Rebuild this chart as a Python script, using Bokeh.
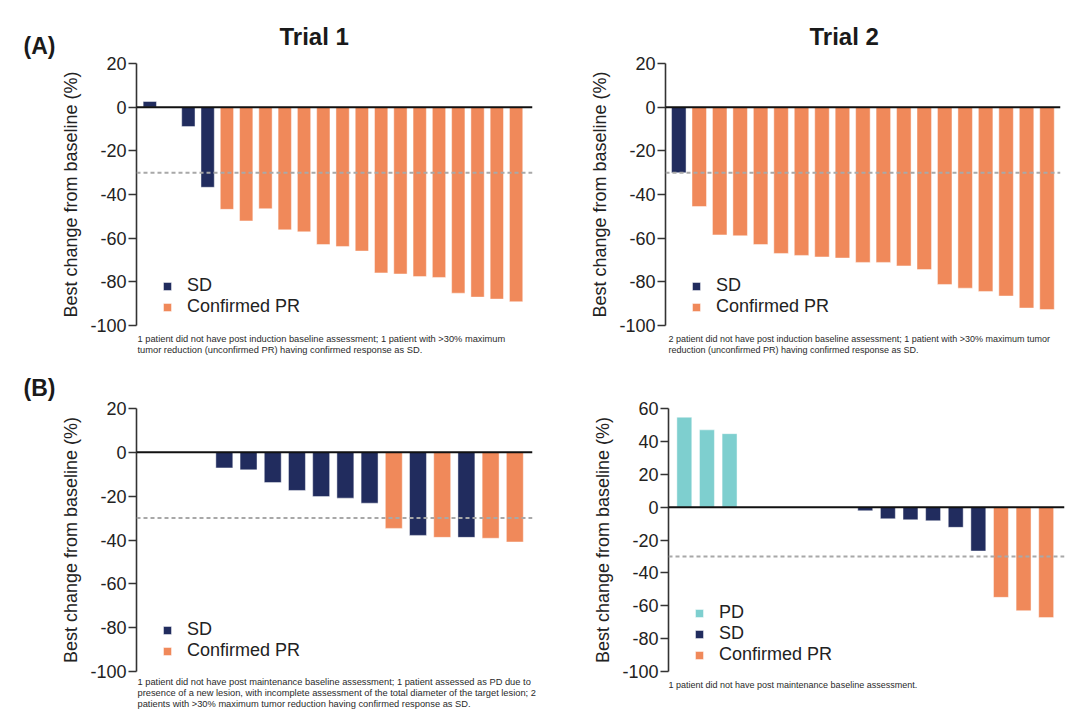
from bokeh.plotting import figure
from bokeh.models import Range1d, Span, Label, Legend, LegendItem, FixedTicker, ColumnDataSource, Title
from bokeh.layouts import column, row
from bokeh.embed import file_html
from bokeh.resources import INLINE

FONT = "Liberation Sans"

# ---------------- data ----------------
# one entry per patient slot; None = patient without assessment (empty slot)
a1_values = [2.6, None, -8.9, -36.7, -46.8, -52.1, -46.5, -56.2, -57.1, -62.9,
             -63.8, -65.9, -75.9, -76.4, -77.6, -78.0, -85.2, -87.0, -87.9, -89.1]
a1_status = ["SD", None, "SD", "SD"] + ["PR"] * 16

a2_values = [-30.0, -45.5, -58.5, -58.9, -62.9, -67.0, -67.9, -68.6, -69.1, -71.1,
             -71.1, -72.7, -74.4, -81.2, -82.9, -84.4, -86.5, -92.0, -92.7]
a2_status = ["SD"] + ["PR"] * 18

b1_values = [None, None, None, -7.1, -8.0, -13.8, -17.4, -20.2, -20.9, -23.2,
             -34.7, -37.9, -38.8, -38.8, -39.2, -40.9]
b1_status = [None, None, None, "SD", "SD", "SD", "SD", "SD", "SD", "SD",
             "PR", "SD", "PR", "SD", "PR", "PR"]

b2_values = [54.7, 47.0, 44.7, None, None, None, None, None, -2.2, -7.1,
             -7.7, -8.3, -12.3, -26.7, -54.9, -63.0, -67.2]
b2_status = ["PD", "PD", "PD", None, None, None, None, None, "SD", "SD",
             "SD", "SD", "SD", "SD", "PR", "PR", "PR"]

status_names = {"PD": "PD", "SD": "SD", "PR": "Confirmed PR"}
status_colors = {"PD": "#7ECFCF", "SD": "#212C5E", "PR": "#F0895A"}

ticks_ab = [-100, -80, -60, -40, -20, 0, 20]
ticks_b2 = [-100, -80, -60, -40, -20, 0, 20, 40, 60]
threshold = -30

title_a1 = "Trial 1"
title_a2 = "Trial 2"
tag_a = "(A)"
tag_b = "(B)"
y_label = "Best change from baseline (%)"

notes_a1 = ["1 patient did not have post induction baseline assessment; 1 patient with >30% maximum",
            "tumor reduction (unconfirmed PR) having confirmed response as SD."]
notes_a2 = ["2 patient did not have post induction baseline assessment; 1 patient with >30% maximum tumor",
            "reduction (unconfirmed PR) having confirmed response as SD."]
notes_b1 = ["1 patient did not have post maintenance baseline assessment; 1 patient assessed as PD due to",
            "presence of a new lesion, with incomplete assessment of the total diameter of the target lesion; 2",
            "patients with >30% maximum tumor reduction having confirmed response as SD."]
notes_b2 = ["1 patient did not have post maintenance baseline assessment."]

TAG_W = 58
ROW1_H = 368
ROW2_H = 350


def panel(values, status, order, yr, ticks, w, h, borders, xr, bar_w,
          legend_xy, notes, note_dx, note_standoff, note_size="9px",
          title=None, title_dx=143):
    left, right, top, bottom = borders
    p = figure(width=w, height=h, output_backend="svg", toolbar_location=None,
               x_axis_location=None, x_range=Range1d(*xr), y_range=Range1d(*yr),
               min_border_left=left, min_border_right=right,
               min_border_top=top, min_border_bottom=bottom)
    p.outline_line_color = None
    p.grid.visible = False
    p.background_fill_color = "white"
    p.border_fill_color = "white"

    ax = p.yaxis[0]
    ax.ticker = FixedTicker(ticks=ticks)
    ax.major_label_overrides = {t: str(t) for t in ticks}
    ax.axis_label = y_label
    ax.axis_label_text_font = FONT
    ax.axis_label_text_font_style = "normal"
    ax.axis_label_text_font_size = "18px"
    ax.axis_label_text_color = "#222222"
    ax.axis_label_standoff = 6
    ax.major_label_text_font = FONT
    ax.major_label_text_font_size = "18px"
    ax.major_label_text_color = "#222222"
    ax.major_label_standoff = 2
    ax.major_tick_out = 8
    ax.major_tick_in = 0
    ax.minor_tick_out = 0
    ax.minor_tick_in = 0
    ax.axis_line_width = 1.6
    ax.axis_line_color = "#333333"
    ax.major_tick_line_width = 1.6
    ax.major_tick_line_color = "#333333"

    items = []
    for key in order:
        xs = [i + 1 for i, (v, s) in enumerate(zip(values, status)) if v is not None and s == key]
        ys = [v for v, s in zip(values, status) if v is not None and s == key]
        src = ColumnDataSource(dict(x=xs, top=ys))
        r = p.vbar(x="x", top="top", bottom=0, width=bar_w, source=src,
                   fill_color=status_colors[key], line_color="white",
                   line_alpha=0.45, line_width=1)
        items.append(LegendItem(label=status_names[key], renderers=[r]))

    p.add_layout(Span(location=threshold, dimension="width", line_color="#A8A8A8",
                      line_dash="4 3", line_width=2))
    p.add_layout(Span(location=0, dimension="width", line_color="#111111", line_width=2))

    leg = Legend(items=items, location=legend_xy, orientation="vertical",
                 glyph_width=10, glyph_height=10, label_standoff=15, spacing=0,
                 label_height=17, padding=0, margin=0,
                 label_text_font=FONT, label_text_font_size="18px",
                 label_text_line_height=1.0,
                 label_text_color="#222222",
                 background_fill_alpha=0, border_line_alpha=0)
    p.add_layout(leg, "center")

    if title:
        p.add_layout(Title(text=title, align="left", offset=title_dx, standoff=28,
                           vertical_align="bottom", text_font=FONT,
                           text_font_style="bold", text_font_size="24px",
                           text_color="#1a1a1a"), "above")
    p.add_layout(Title(text="\n".join(notes), align="left", offset=note_dx,
                       standoff=note_standoff, vertical_align="bottom",
                       text_font=FONT, text_font_style="normal", text_font_size=note_size,
                       text_line_height=1.12, text_color="#2a2a2a"), "below")
    return p


pa1 = panel(a1_values, a1_status, ["SD", "PR"], (-100, 20), ticks_ab, 540 - TAG_W, ROW1_H,
            (136 - TAG_W, 8, 63, 43), (0.31, 20.85), 0.69, (26, 8),
            notes_a1, 1, 13, note_size="9.3px", title=title_a1, title_dx=143)
pa2 = panel(a2_values, a2_status, ["SD", "PR"], (-100, 20), ticks_ab, 540, ROW1_H,
            (125, 20, 63, 43), (0.35, 19.66), 0.71, (26, 8),
            notes_a2, 3, 13, title=title_a2, title_dx=144)
pb1 = panel(b1_values, b1_status, ["SD", "PR"], (-100, 20), ticks_ab, 540 - TAG_W, ROW2_H,
            (136 - TAG_W, 8, 40, 47), (0.372, 16.73), 0.70, (26, 10),
            notes_b1, 1, 8, note_size="9.3px")
pb2 = panel(b2_values, b2_status, ["PD", "SD", "PR"], (-100, 60), ticks_b2, 540, ROW2_H,
            (128, 16, 40, 47), (0.30, 17.81), 0.66, (26, 6),
            notes_b2, 0, 13)

# narrow strip holding the panel tags "(A)" and "(B)"
tags = figure(width=TAG_W, height=ROW1_H + ROW2_H, output_backend="svg", toolbar_location=None,
              x_axis_location=None, y_axis_location=None,
              x_range=Range1d(0, TAG_W), y_range=Range1d(ROW1_H + ROW2_H, 0),
              min_border_left=0, min_border_right=0, min_border_top=0, min_border_bottom=0)
tags.outline_line_color = None
tags.grid.visible = False
for txt, ty in ((tag_a, 45.5), (tag_b, 387)):
    tags.add_layout(Label(x=23, y=ty, text=txt, text_font=FONT, text_font_style="bold",
                          text_font_size="23px", text_color="#1a1a1a",
                          text_align="left", text_baseline="middle"))

grid = column(row(pa1, pa2, spacing=0), row(pb1, pb2, spacing=0), spacing=0)
layout = row(tags, grid, spacing=0)

open("out.html", "w").write(file_html(layout, INLINE))
